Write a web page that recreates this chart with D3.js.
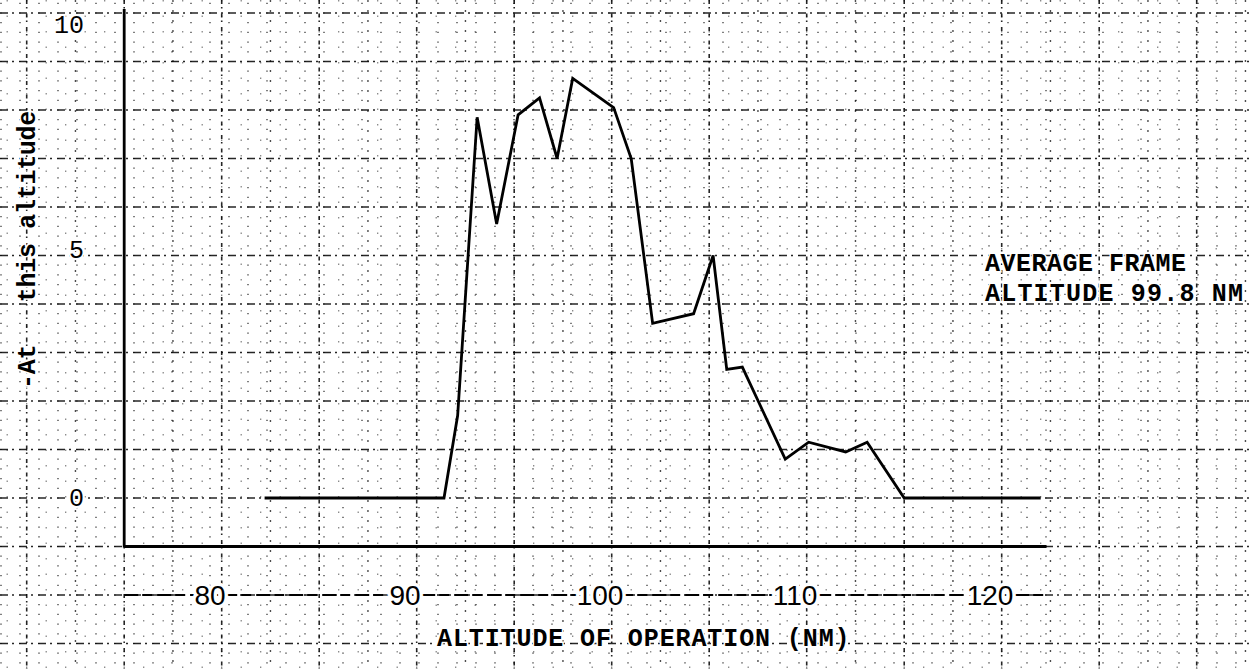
<!DOCTYPE html>
<html>
<head>
<meta charset="utf-8">
<script src="https://cdn.jsdelivr.net/npm/d3@7"></script>
<style>
  html, body { margin: 0; padding: 0; background: #fff; }
  svg { display: block; }
</style>
</head>
<body>
<svg id="chart" width="1254" height="669"></svg>
<script>
// ---- data ----
const altitudeNM = [82.8, 92.0, 92.7, 93.7, 94.7, 95.8, 96.9, 97.8, 98.6, 100.7, 101.6, 102.7,
                    104.8, 105.8, 106.5, 107.3, 109.5, 110.7, 112.6, 113.7, 115.6, 122.6];
const framesAtAltitude = [0, 0, 1.7, 7.85, 5.65, 7.9, 8.25, 7.0, 8.65, 8.05, 7.0, 3.6,
                          3.8, 5.0, 2.65, 2.7, 0.8, 1.15, 0.95, 1.15, 0, 0];
const xTickValues = [80, 90, 100, 110, 120];
const yTickValues = [0, 5, 10];
const yTitle = ["-At", "this altitude"];
const xTitle = "ALTITUDE OF OPERATION (NM)";
const noteLines = ["AVERAGE FRAME", "ALTITUDE 99.8 NM"];

// ---- layout ----
const W = 1254, H = 669;
const svg = d3.select("#chart");
const x = d3.scaleLinear().domain([80, 120]).range([210, 990]);
const y = d3.scaleLinear().domain([0, 10]).range([498, 13]);
const frameX = [75.6, 122.9];   // extent of the drawn x axis (NM)
const frameYBottom = -1;         // the x axis sits one unit below zero
const typeFont = "'Liberation Mono', 'DejaVu Sans Mono', monospace";

svg.append("rect").attr("width", W).attr("height", H).attr("fill", "#fff");

// ---- graph paper ----
const paper = svg.append("g").attr("class", "paper");
const nmMax = x.invert(W);
const yMin = y.invert(H), yMax = y.invert(0);
const vMinor = d3.range(frameX[0] - 10, nmMax, 1);
const hMinor = d3.range(-5, yMax, 0.2).filter(v => v >= yMin);
paper.selectAll(".vmin").data(vMinor).join("line")
  .attr("x1", d => x(d)).attr("x2", d => x(d)).attr("y1", 0).attr("y2", H)
  .attr("stroke", "#000").attr("stroke-opacity", 0.5).attr("stroke-width", 1.2)
  .attr("stroke-dasharray", "1.5,14");
paper.selectAll(".hmin").data(hMinor).join("line")
  .attr("x1", 0).attr("x2", W).attr("y1", d => y(d)).attr("y2", d => y(d))
  .attr("stroke", "#000").attr("stroke-opacity", 0.5).attr("stroke-width", 1.2)
  .attr("stroke-dasharray", "2,17");
const vHalf = d3.range(frameX[0] - 7.5, nmMax, 5);
paper.selectAll(".vhalf").data(vHalf).join("line")
  .attr("x1", d => x(d)).attr("x2", d => x(d)).attr("y1", 0).attr("y2", H)
  .attr("stroke", "#000").attr("stroke-opacity", 0.7).attr("stroke-width", 1.4)
  .attr("stroke-dasharray", "2,8");
const vMajor = d3.range(frameX[0] - 5, nmMax, 5);
const hMajor = d3.range(-4, 11, 1);
paper.selectAll(".vmaj").data(vMajor).join("line")
  .attr("x1", d => x(d)).attr("x2", d => x(d)).attr("y1", 0).attr("y2", H)
  .attr("stroke", "#000").attr("stroke-opacity", 0.85).attr("stroke-width", 1.6)
  .attr("stroke-dasharray", "4,3,1.5,5");
paper.selectAll(".hmaj").data(hMajor).join("line")
  .attr("x1", 0).attr("x2", W).attr("y1", d => y(d)).attr("y2", d => y(d))
  .attr("stroke", "#000").attr("stroke-opacity", 0.85).attr("stroke-width", 1.6)
  .attr("stroke-dasharray", "8,4,2,5");

// ---- axes frame ----
svg.append("line")
  .attr("x1", x(frameX[0])).attr("x2", x(frameX[0]))
  .attr("y1", 9).attr("y2", y(frameYBottom) + 1)
  .attr("stroke", "#000").attr("stroke-width", 2.8);
svg.append("line")
  .attr("x1", x(frameX[0])).attr("x2", x(frameX[1]))
  .attr("y1", y(frameYBottom)).attr("y2", y(frameYBottom))
  .attr("stroke", "#000").attr("stroke-width", 3);

// typed dash line carrying the x labels
const labelRowY = y(-2);
svg.append("line")
  .attr("x1", x(frameX[0])).attr("x2", x(frameX[1]))
  .attr("y1", labelRowY).attr("y2", labelRowY)
  .attr("stroke", "#000").attr("stroke-width", 1.8)
  .attr("stroke-dasharray", "14,4,10,5");

// x tick labels
svg.selectAll(".xlab").data(xTickValues).join("text")
  .attr("x", d => x(d)).attr("y", labelRowY + 10)
  .attr("text-anchor", "middle")
  .attr("font-family", "'Liberation Sans', Arial, sans-serif")
  .attr("font-size", 28)
  .attr("fill", "#000")
  .attr("stroke", "#fff").attr("stroke-width", 7).attr("paint-order", "stroke")
  .text(d => d);

// y tick labels
svg.selectAll(".ylab").data(yTickValues).join("text")
  .attr("x", 84).attr("y", d => y(d) + (d === 10 ? 20 : d === 5 ? 2 : 8))
  .attr("text-anchor", "end")
  .attr("font-family", typeFont)
  .attr("font-size", 25)
  .attr("fill", "#000")
  .attr("stroke", "#fff").attr("stroke-width", 4).attr("paint-order", "stroke")
  .text(d => d);

// y title (rotated, typed)
const yt = svg.append("text")
  .attr("transform", "translate(35,389) rotate(-90)")
  .attr("font-family", typeFont)
  .attr("font-size", 25)
  .attr("font-weight", "bold")
  .attr("letter-spacing", -0.3)
  .attr("fill", "#000")
  .attr("stroke", "#fff").attr("stroke-width", 3).attr("paint-order", "stroke");
yt.append("tspan").text(yTitle[0]);
yt.append("tspan").attr("dx", 28).text(" " + yTitle[1]);

// x title
svg.append("text")
  .attr("x", 437).attr("y", 646)
  .attr("font-family", typeFont)
  .attr("font-size", 25)
  .attr("font-weight", "bold")
  .attr("letter-spacing", 0.9)
  .attr("fill", "#000")
  .attr("stroke", "#fff").attr("stroke-width", 3).attr("paint-order", "stroke")
  .text(xTitle);

// note
svg.selectAll(".note").data(noteLines).join("text")
  .attr("x", 985).attr("y", (d, i) => 271 + i * 30)
  .attr("font-family", typeFont)
  .attr("font-size", 25)
  .attr("font-weight", "bold")
  .attr("letter-spacing", (d, i) => i === 0 ? 0.5 : 1.2)
  .attr("fill", "#000")
  .attr("stroke", "#fff").attr("stroke-width", 3).attr("paint-order", "stroke")
  .text(d => d);

// ---- the data line ----
const pts = altitudeNM.map((a, i) => [a, framesAtAltitude[i]]);
svg.append("path")
  .datum(pts)
  .attr("d", d3.line().x(d => x(d[0])).y(d => y(d[1])))
  .attr("fill", "none")
  .attr("stroke", "#000")
  .attr("stroke-width", 2.8)
  .attr("stroke-linejoin", "miter");
</script>
</body>
</html>
